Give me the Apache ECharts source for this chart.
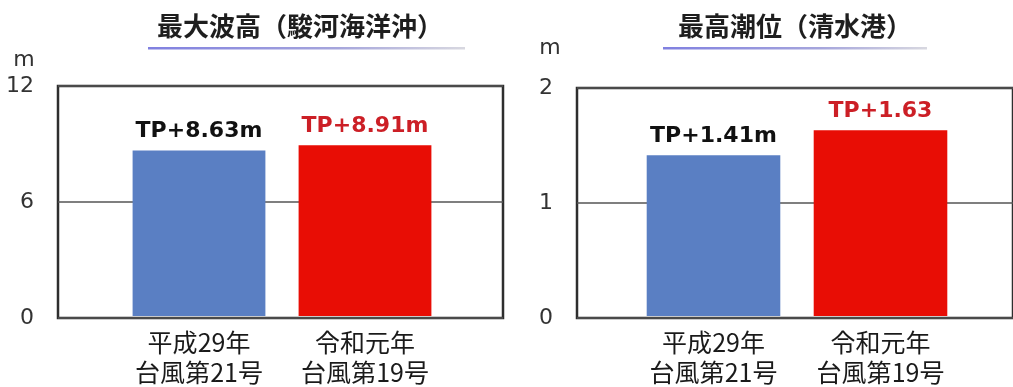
<!DOCTYPE html>
<html>
<head>
<meta charset="utf-8">
<script src="https://cdn.jsdelivr.net/npm/echarts@6/dist/echarts.min.js"></script>
<style>
  html, body { margin: 0; padding: 0; background: #fff; }
  #chart { width: 1013px; height: 387px; }
</style>
</head>
<body>
<div id="chart"></div>
<script>
// Typhoon comparison: maximum wave height and maximum tide level
const categories = ['平成29年\n台風第21号', '令和元年\n台風第19号'];
const waveHeights = [8.63, 8.91];   // 最大波高 (m)
const tideLevels = [1.41, 1.63];    // 最高潮位 (m)
const waveSuffix = ['m', 'm'];
const tideSuffix = ['m', ''];
const waveTicks = { min: 0, max: 12, interval: 6 };
const tideTicks = { min: 0, max: 2, interval: 1 };
const titles = ['最大波高（駿河海洋沖）', '最高潮位（清水港）'];

const barColors = ['#5a7fc3', '#e80d05'];
const labelColors = ['#111111', '#cc1f26'];
const latin = '"DejaVu Sans", "Noto Sans CJK JP", sans-serif';
const cjk = '"Noto Sans CJK JP", "DejaVu Sans", sans-serif';

const chart = echarts.init(document.getElementById('chart'), null, { renderer: 'canvas' });

function barData(values) {
  return values.map((v, i) => ({
    value: v,
    itemStyle: { color: barColors[i] },
    label: { color: labelColors[i] }
  }));
}

function frameY(ticks, gridIndex, gap, pad) {
  return {
    type: 'value', gridIndex,
    min: ticks.min, max: ticks.max, interval: ticks.interval,
    name: 'm', nameLocation: 'end', nameGap: gap,
    nameTextStyle: { fontFamily: latin, fontSize: 22, color: '#333', align: 'center', verticalAlign: 'middle', padding: pad },
    axisLine: { show: false }, axisTick: { show: false },
    axisLabel: { fontFamily: latin, fontSize: 22, color: '#333', margin: 24 },
    splitLine: { show: true, lineStyle: { color: '#555', width: 1.5 } }
  };
}

function barY(ticks, gridIndex) {
  return {
    type: 'value', gridIndex,
    min: ticks.min, max: ticks.max, interval: ticks.interval,
    show: false, splitLine: { show: false }
  };
}

const frameX = (gridIndex) => ({
  type: 'category', gridIndex, data: categories, show: false
});

const barX = (gridIndex) => ({
  type: 'category', gridIndex, data: categories,
  axisLine: { show: false }, axisTick: { show: false },
  axisLabel: { fontFamily: cjk, fontSize: 25, lineHeight: 30, color: '#1a1a1a', margin: 11, interval: 0 }
});

function barSeries(values, suffix, axisIndex) {
  return {
    type: 'bar', xAxisIndex: axisIndex, yAxisIndex: axisIndex,
    data: barData(values), barWidth: '80%',
    label: {
      show: true, position: 'top', distance: 8,
      fontFamily: latin, fontSize: 22, fontWeight: 'bold',
      formatter: (p) => 'TP+' + p.value.toFixed(2) + suffix[p.dataIndex]
    }
  };
}

function underline(x, width) {
  return {
    type: 'rect', left: x, top: 47,
    shape: { width, height: 2.5 },
    style: {
      fill: new echarts.graphic.LinearGradient(0, 0, 1, 0, [
        { offset: 0, color: '#8080e0' },
        { offset: 0.6, color: '#a6a6dc' },
        { offset: 1, color: '#d8d8e0' }
      ])
    },
    z: 1
  };
}

chart.setOption({
  animation: false,
  backgroundColor: '#ffffff',
  title: [
    { text: titles[0], left: 300, top: 13, textAlign: 'center', padding: 0,
      textStyle: { fontFamily: cjk, fontSize: 26, fontWeight: 'bold', color: '#1e1e1e' } },
    { text: titles[1], left: 795, top: 13, textAlign: 'center', padding: 0,
      textStyle: { fontFamily: cjk, fontSize: 26, fontWeight: 'bold', color: '#1e1e1e' } }
  ],
  graphic: [underline(148, 317), underline(663, 264)],
  grid: [
    // framed plot areas
    { left: 58, top: 86, width: 445, bottom: 69, show: true, borderColor: '#2e2e2e', borderWidth: 2.5, containLabel: false },
    { left: 577, top: 88, width: 445, bottom: 69, show: true, borderColor: '#2e2e2e', borderWidth: 2.5, containLabel: false },
    // category bands holding the bars
    { left: 116, top: 86, width: 332, bottom: 69, containLabel: false },
    { left: 630, top: 88, width: 334, bottom: 69, containLabel: false }
  ],
  xAxis: [frameX(0), frameX(1), barX(2), barX(3)],
  yAxis: [
    frameY(waveTicks, 0, 26, [0, 68, 0, 0]),
    frameY(tideTicks, 1, 40, [0, 54, 0, 0]),
    barY(waveTicks, 2),
    barY(tideTicks, 3)
  ],
  series: [
    barSeries(waveHeights, waveSuffix, 2),
    barSeries(tideLevels, tideSuffix, 3)
  ]
});
</script>
</body>
</html>
